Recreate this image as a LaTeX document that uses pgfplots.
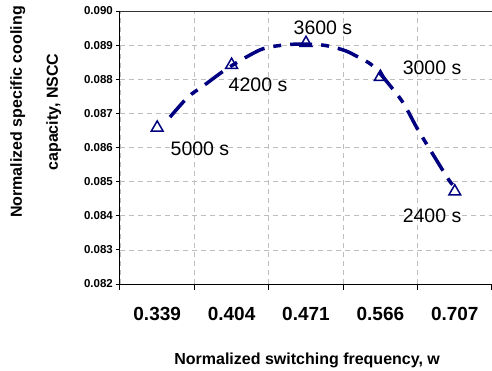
\documentclass[border=0pt]{standalone}
\usepackage{fontspec}
\setmainfont{Liberation Sans}
\usepackage{pgfplots}
\pgfplotsset{compat=1.18}
\definecolor{navy}{RGB}{0,0,128}
\definecolor{gridgray}{RGB}{190,190,190}
\begin{document}
\begin{tikzpicture}[x=1pt,y=1pt]
\begin{axis}[
  at={(0,0)}, anchor=south west,
  scale only axis, width=372pt, height=273pt,
  xmin=-0.5, xmax=4.5, ymin=0.082, ymax=0.090,
  axis x line*=bottom, axis y line*=left,
  axis line style={line width=1pt, -, black},
  xtick={0,1,2,3,4},
  xticklabels={0.339,0.404,0.471,0.566,0.707},
  major x tick style={draw=none},
  minor xtick={-0.5,0.5,1.5,2.5,3.5,4.5},
  minor x tick style={line width=1pt, black},
  ytick={0.082,0.083,0.084,0.085,0.086,0.087,0.088,0.089,0.090},
  major y tick style={line width=1pt, black},
  tick align=outside,
  major tick length=4pt, minor tick length=6pt,
  xminorgrids=true, ymajorgrids=true,
  minor grid style={gridgray, dash pattern=on 5pt off 4pt, line width=0.7pt},
  major grid style={gridgray, dash pattern=on 5pt off 4pt, line width=0.7pt},
  /pgf/number format/assume math mode=true,
  yticklabel={\pgfmathprintnumber[fixed,fixed zerofill,precision=3]{\tick}},
  yticklabel style={font=\fontsize{11.5}{13}\selectfont\bfseries, anchor=east, inner sep=0pt, xshift=-3pt},
  xticklabel style={font=\fontsize{19}{22}\selectfont\bfseries, anchor=north, inner sep=0pt, yshift=-19pt},
  scaled y ticks=false,
  xlabel={Normalized switching frequency, w},
  xlabel style={font=\fontsize{16}{19}\selectfont\bfseries, at={(rel axis cs:0.503,0)}, anchor=base, yshift=-80pt, inner sep=0pt},
  ylabel={Normalized specific cooling\\capacity, NSCC},
  ylabel style={font=\fontsize{16}{36}\selectfont\bfseries, align=center, at={(rel axis cs:-0.2266,0.63)}, anchor=center, inner sep=0pt},
  clip=false,
]
\addplot[navy, line width=3.5pt, dash pattern=on 22pt off 9pt on 8pt off 9pt, smooth, tension=0.5] coordinates {
  (0.172,0.08689) (0.414,0.08748) (0.616,0.08780) (0.871,0.08821) (1.086,0.08851)
  (1.382,0.08886) (1.583,0.08897) (1.879,0.08903) (2.229,0.08900) (2.497,0.08886)
  (2.659,0.08870) (2.900,0.08839) (3.157,0.08774) (3.318,0.08727) (3.492,0.08657)
  (3.720,0.08575) (3.920,0.08505) (4.000,0.08484)
};
\addplot[only marks, mark=triangle, mark size=6.8pt, navy, mark options={line width=1.5pt, fill=white}] coordinates {
  (0,0.08658) (1,0.08842) (2,0.08906) (3,0.08807) (4,0.08471)
};
\draw[line width=1pt, black!80] (rel axis cs:0,1) -- (rel axis cs:1,1);
\begin{scope}[every node/.style={font=\fontsize{19.5}{22}\selectfont, inner sep=0pt, anchor=center}]
\node at (axis cs:0.575,0.08596) {5000 s};
\node at (axis cs:1.355,0.08785) {4200 s};
\node at (axis cs:2.228,0.08952) {3600 s};
\node at (axis cs:3.694,0.08834) {3000 s};
\node at (axis cs:3.694,0.08401) {2400 s};
\end{scope}
\end{axis}
\pgfresetboundingbox
\useasboundingbox (-120,-86) rectangle (372,284);
\end{tikzpicture}
\end{document}
